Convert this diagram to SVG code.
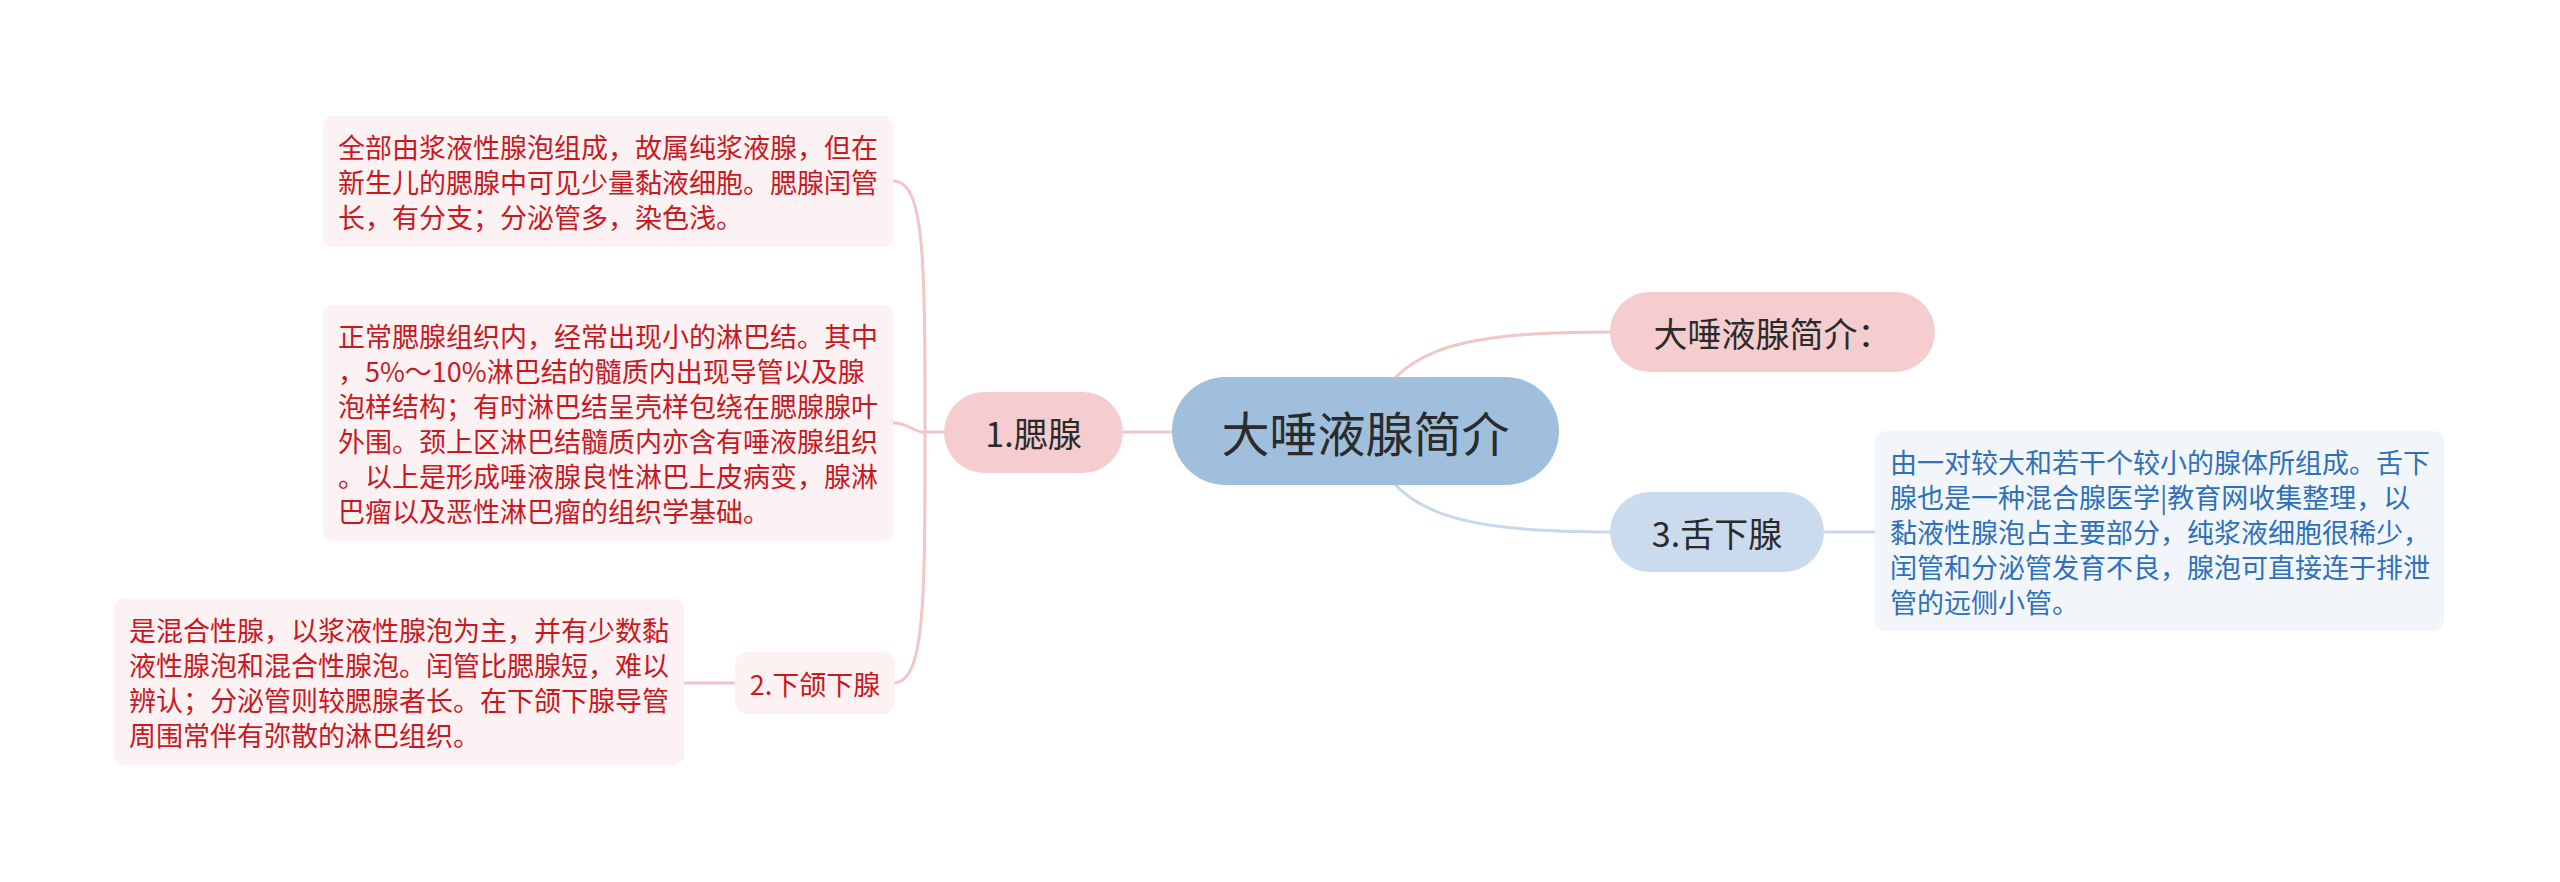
<svg xmlns="http://www.w3.org/2000/svg" width="2560" height="882" viewBox="0 0 2560 882">
<style>
text{font-family:"Noto Sans CJK SC",sans-serif;dominant-baseline:central}
.c{text-anchor:middle}
.red{fill:#c9191f;font-size:27px}
.blue{fill:#2f70bb;font-size:27px}
.dark{fill:#2b2b2b}
.lp{fill:none;stroke:#f2c5c7;stroke-width:3}
.lb{fill:none;stroke:#c6d8ea;stroke-width:3}
</style>
<rect width="2560" height="882" fill="#ffffff"/>
<g id="connectors">
<path class="lp" d="M1366 431 C1390 350 1450 332 1612 332"/>
<path class="lb" d="M1366 431 C1390 512 1450 532 1612 532"/>
<path class="lp" d="M1175 432 L1120 432"/>
<path class="lp" d="M946 432 L925 432"/>
<path class="lp" d="M925 432 C925 260 925 181 893 181"/>
<path class="lp" d="M925 432 C912 432 910 423 893 423"/>
<path class="lp" d="M925 432 C925 604 925 683 893 683"/>
<path class="lp" d="M737 683 L684 683"/>
<path class="lb" d="M1822 532 L1877 532"/>
</g>
<g id="main">
<rect x="1172" y="377" width="387" height="108" rx="54" fill="#9fbfdc"/>
<text class="c dark" x="1365.5" y="431" font-size="48">大唾液腺简介</text>
</g>
<g id="intro">
<rect x="1610" y="292" width="325" height="80" rx="40" fill="#f5cdcf"/>
<text class="c dark" x="1772.5" y="332" font-size="34">大唾液腺简介：</text>
</g>
<g id="sublingual">
<rect x="1610" y="492" width="214" height="80" rx="40" fill="#c9dbec"/>
<text class="c dark" x="1717" y="532" font-size="34">3.舌下腺</text>
</g>
<g id="sublingual-text">
<rect x="1875" y="431" width="569" height="200" rx="10" fill="#f2f6fb"/>
<text class="blue" x="1890" y="461.5">由一对较大和若干个较小的腺体所组成。舌下</text>
<text class="blue" x="1890" y="496.5">腺也是一种混合腺医学|教育网收集整理，以</text>
<text class="blue" x="1890" y="531.5">黏液性腺泡占主要部分，纯浆液细胞很稀少，</text>
<text class="blue" x="1890" y="566.5">闰管和分泌管发育不良，腺泡可直接连于排泄</text>
<text class="blue" x="1890" y="601.5">管的远侧小管。</text>
</g>
<g id="parotid">
<rect x="944" y="392" width="179" height="81" rx="40.5" fill="#f5cdcf"/>
<text class="c dark" x="1033.5" y="432" font-size="34">1.腮腺</text>
</g>
<g id="parotid-text1">
<rect x="323" y="116" width="570" height="131" rx="10" fill="#fdf2f3"/>
<text class="red" x="338" y="146.5">全部由浆液性腺泡组成，故属纯浆液腺，但在</text>
<text class="red" x="338" y="181.5">新生儿的腮腺中可见少量黏液细胞。腮腺闰管</text>
<text class="red" x="338" y="216.5">长，有分支；分泌管多，染色浅。</text>
</g>
<g id="parotid-text2">
<rect x="323" y="305" width="570" height="236" rx="10" fill="#fdf2f3"/>
<text class="red" x="338" y="335.5">正常腮腺组织内，经常出现小的淋巴结。其中</text>
<text class="red" x="338" y="370.5">，5%～10%淋巴结的髓质内出现导管以及腺</text>
<text class="red" x="338" y="405.5">泡样结构；有时淋巴结呈壳样包绕在腮腺腺叶</text>
<text class="red" x="338" y="440.5">外围。颈上区淋巴结髓质内亦含有唾液腺组织</text>
<text class="red" x="338" y="475.5">。以上是形成唾液腺良性淋巴上皮病变，腺淋</text>
<text class="red" x="338" y="510.5">巴瘤以及恶性淋巴瘤的组织学基础。</text>
</g>
<g id="submandibular">
<rect x="735" y="652" width="160" height="62" rx="12" fill="#fdf1f2"/>
<text class="c red" x="815" y="683">2.下颌下腺</text>
</g>
<g id="submandibular-text">
<rect x="114" y="599" width="570" height="166" rx="10" fill="#fdf2f3"/>
<text class="red" x="129" y="629.5">是混合性腺，以浆液性腺泡为主，并有少数黏</text>
<text class="red" x="129" y="664.5">液性腺泡和混合性腺泡。闰管比腮腺短，难以</text>
<text class="red" x="129" y="699.5">辨认；分泌管则较腮腺者长。在下颌下腺导管</text>
<text class="red" x="129" y="734.5">周围常伴有弥散的淋巴组织。</text>
</g>
</svg>
